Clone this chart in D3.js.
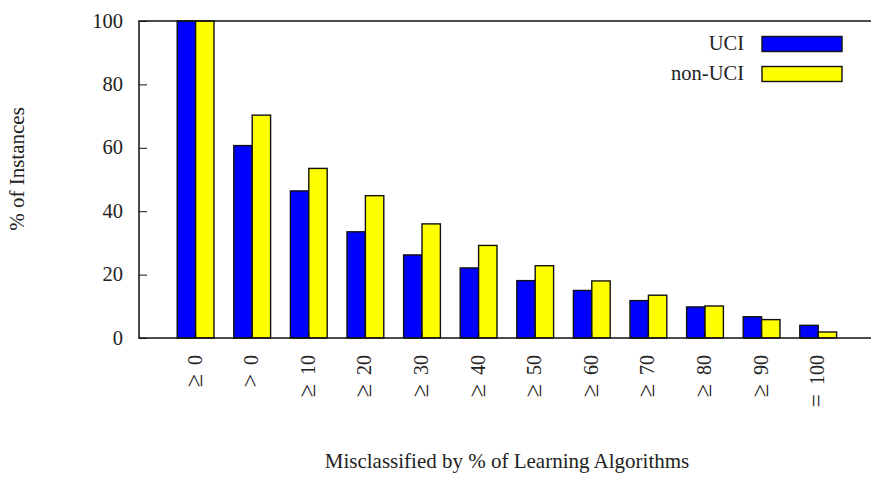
<!DOCTYPE html>
<html>
<head>
<meta charset="utf-8">
<script src="https://cdn.jsdelivr.net/npm/d3@7"></script>
<style>
  body { margin: 0; background: #fff; }
  text { font-family: "Liberation Serif", "DejaVu Serif", serif; fill: #222; }
</style>
</head>
<body>
<div id="chart"></div>
<script>
const categories = ["≥ 0", "> 0", "≥ 10", "≥ 20", "≥ 30", "≥ 40", "≥ 50", "≥ 60", "≥ 70", "≥ 80", "≥ 90", "= 100"];
const uci    = [100, 60.7, 46.4, 33.5, 26.2, 22.1, 18.1, 15.0, 11.8, 9.8, 6.7, 4.0];
const nonUci = [100, 70.3, 53.5, 44.9, 36.0, 29.2, 22.8, 18.0, 13.5, 10.1, 5.8, 1.9];
const yTicks = [0, 20, 40, 60, 80, 100];
const seriesNames = ["UCI", "non-UCI"];
const colors = ["#0000ff", "#ffff00"];

const width = 871, height = 480;
const margin = {top: 21, bottom: 142, left: 139};

const svg = d3.select("#chart")
  .append("svg")
  .attr("width", width)
  .attr("height", height);

// gnuplot-like x range: one empty slot either side of the groups
const x = d3.scaleLinear()
  .domain([-1, categories.length])
  .range([margin.left, margin.left + 56.6 * (categories.length + 1)]);
const y = d3.scaleLinear()
  .domain([0, 100])
  .range([height - margin.bottom, margin.top]);

const bw = x(0.325) - x(0);

// bars
const series = [uci, nonUci];
series.forEach((vals, s) => {
  svg.append("g")
    .selectAll("rect")
    .data(vals)
    .join("rect")
    .attr("x", (d, i) => s === 0 ? x(i) - bw : x(i))
    .attr("y", d => y(d))
    .attr("width", bw)
    .attr("height", d => y(0) - y(d))
    .attr("fill", colors[s])
    .attr("stroke", "#111")
    .attr("stroke-width", 1.4);
});

// frame
svg.append("rect")
  .attr("x", x.range()[0])
  .attr("y", y(100))
  .attr("width", x.range()[1] - x.range()[0])
  .attr("height", y(0) - y(100))
  .attr("fill", "none")
  .attr("stroke", "#111")
  .attr("stroke-width", 1.5);

// y axis
const yAxis = d3.axisLeft(y)
  .tickValues(yTicks)
  .tickSize(-8)
  .tickPadding(16);
svg.append("g")
  .attr("transform", `translate(${margin.left},0)`)
  .call(yAxis)
  .call(g => g.select(".domain").remove())
  .call(g => g.selectAll(".tick line").attr("stroke", "#111"))
  .call(g => g.selectAll(".tick text")
    .attr("font-size", 20.5)
    .attr("font-family", "Liberation Serif")
    .attr("fill", "#222")
    .attr("dy", "0.3em"));

// x ticks + rotated labels (relation symbol, then the number)
const xTicks = svg.append("g");
xTicks.selectAll("line")
  .data(categories)
  .join("line")
  .attr("x1", (d, i) => x(i))
  .attr("x2", (d, i) => x(i))
  .attr("y1", y(0))
  .attr("y2", y(0) - 6)
  .attr("stroke", "#111");
const xLabels = xTicks.selectAll("text")
  .data(categories)
  .join("text")
  .attr("transform", (d, i) => `translate(${x(i) + 6},355) rotate(-90)`)
  .attr("text-anchor", "end")
  .attr("font-size", 20);
xLabels.append("tspan")
  .attr("font-size", 24)
  .text(d => d.split(" ")[0]);
xLabels.append("tspan")
  .attr("dx", 9)
  .text(d => d.split(" ")[1]);

// axis titles
svg.append("text")
  .attr("transform", `translate(24,169) rotate(-90)`)
  .attr("text-anchor", "middle")
  .attr("font-size", 21)
  .text("% of Instances");

svg.append("text")
  .attr("x", 507)
  .attr("y", 468)
  .attr("text-anchor", "middle")
  .attr("font-size", 21)
  .text("Misclassified by % of Learning Algorithms");

// legend
const legend = svg.append("g")
  .selectAll("g")
  .data(seriesNames)
  .join("g")
  .attr("transform", (d, i) => `translate(0,${44 + i * 30})`);
legend.append("text")
  .attr("x", 744)
  .attr("y", 0)
  .attr("dy", "0.3em")
  .attr("text-anchor", "end")
  .attr("font-size", 20.5)
  .text(d => d);
legend.append("rect")
  .attr("x", 762)
  .attr("y", -7.5)
  .attr("width", 80)
  .attr("height", 15)
  .attr("fill", (d, i) => colors[i])
  .attr("stroke", "#111")
  .attr("stroke-width", 1.4);
</script>
</body>
</html>
